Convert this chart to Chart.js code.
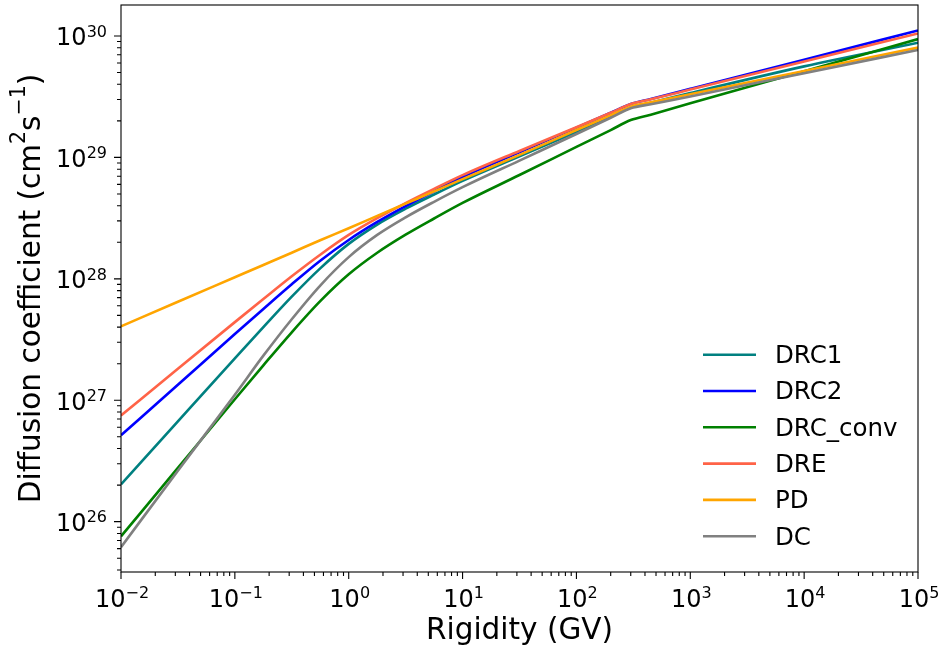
<!DOCTYPE html>
<html lang="en">
<head>
    <meta charset="UTF-8">
    <title>Diffusion coefficient vs rigidity</title>
    <script src="https://cdn.jsdelivr.net/npm/chart.js"></script>
    <style>
        body { margin: 0; background: #fff; }
        #wrap { width: 945px; height: 656px; }
    </style>
</head>
<body>
    <div id="wrap">
        <canvas id="diffChart" width="945" height="656"></canvas>
    </div>

    <script>
        const rigidity = [0.01, 0.0316, 0.1, 0.178, 0.316, 0.562, 1, 1.78, 3.16, 5.62, 10, 31.6, 100, 200, 300, 450, 1000, 1e4, 1e5];

        // Diffusion coefficient (cm^2 s^-1) per model
        const drc1    = [2.03e26, 6.70e26, 2.21e27, 4.00e27, 7.13e27, 1.22e28, 1.94e28, 2.80e28, 3.78e28, 4.95e28, 6.41e28, 1.02e29, 1.62e29, 2.16e29, 2.57e29, 2.82e29, 3.39e29, 5.62e29, 8.81e29];
        const drc2    = [5.14e26, 1.34e27, 3.51e27, 5.65e27, 9.02e27, 1.41e28, 2.09e28, 2.94e28, 3.97e28, 5.26e28, 6.90e28, 1.10e29, 1.76e29, 2.33e29, 2.75e29, 3.03e29, 3.67e29, 6.38e29, 1.11e30];
        const drcConv = [7.57e25, 2.77e26, 1.02e27, 1.94e27, 3.63e27, 6.55e27, 1.09e28, 1.64e28, 2.31e28, 3.14e28, 4.22e28, 7.16e28, 1.22e29, 1.68e29, 2.03e29, 2.25e29, 2.79e29, 5.13e29, 9.44e29];
        const dre     = [7.48e26, 1.82e27, 4.40e27, 6.82e27, 1.05e28, 1.58e28, 2.30e28, 3.16e28, 4.21e28, 5.51e28, 7.14e28, 1.13e29, 1.77e29, 2.33e29, 2.75e29, 3.01e29, 3.62e29, 6.17e29, 1.05e30];
        const pd      = [4.06e27, 6.47e27, 1.03e28, 1.30e28, 1.64e28, 2.08e28, 2.61e28, 3.30e28, 4.16e28, 5.25e28, 6.62e28, 1.05e29, 1.68e29, 2.22e29, 2.62e29, 2.84e29, 3.31e29, 5.15e29, 8.02e29];
        const dc      = [6.17e25, 2.63e26, 1.11e27, 2.33e27, 4.65e27, 8.81e27, 1.51e28, 2.30e28, 3.21e28, 4.31e28, 5.69e28, 9.42e28, 1.56e29, 2.12e29, 2.54e29, 2.74e29, 3.18e29, 4.94e29, 7.67e29];

        const seriesNames  = ['DRC1', 'DRC2', 'DRC_conv', 'DRE', 'PD', 'DC'];
        const seriesValues = [drc1, drc2, drcConv, dre, pd, dc];
        const seriesColors = ['#008080', '#0000FF', '#008000', '#FF6347', '#FFA500', '#808080'];

        // Tick labels: base and exponent
        const xTickValues = [1e-2, 1e-1, 1e0, 1e1, 1e2, 1e3, 1e4, 1e5];
        const xTickLabels = [['10', '−2'], ['10', '−1'], ['10', '0'], ['10', '1'], ['10', '2'], ['10', '3'], ['10', '4'], ['10', '5']];
        const yTickValues = [1e26, 1e27, 1e28, 1e29, 1e30];
        const yTickLabels = [['10', '26'], ['10', '27'], ['10', '28'], ['10', '29'], ['10', '30']];

        // y-axis title pieces: [text, superscript?]
        const yTitleParts = [['Diffusion coefficient (cm', false], ['2', true], ['s', false], ['−1', true], [')', false]];

        const FONT = 'DejaVu Sans';
        const X_MIN = 1e-2, X_MAX = 1e5;
        const Y_MIN = 3.85e25, Y_MAX = 1.8e30;

        const isDecade = v => Math.abs(Math.log10(v) - Math.round(Math.log10(v))) < 1e-6;
        const font = px => px + 'px "' + FONT + '"';

        // major + minor tick positions for a log range
        function logTicks(min, max) {
            const out = [];
            for (let e = Math.floor(Math.log10(min)); e <= Math.ceil(Math.log10(max)); e++) {
                for (let m = 1; m < 10; m++) {
                    const v = m * Math.pow(10, e);
                    if (v >= min * 0.9999 && v <= max * 1.0001) out.push(v);
                }
            }
            return out;
        }

        // "10" with a raised exponent
        function drawPow(ctx, base, exp, x, y, align) {
            ctx.font = font(24);
            const wb = ctx.measureText(base).width;
            ctx.font = font(16);
            const we = ctx.measureText(exp).width;
            const w = wb + we;
            const left = align === 'right' ? x - w : x - w / 2;
            ctx.textAlign = 'left';
            ctx.textBaseline = 'alphabetic';
            ctx.font = font(24);
            ctx.fillText(base, left, y);
            ctx.font = font(16);
            ctx.fillText(exp, left + wb, y - 8.5);
        }

        // rotated y title with real superscripts
        function drawYTitle(ctx, a) {
            const big = 29.5, small = 20.5;
            let total = 0;
            yTitleParts.forEach(([t, sup]) => { ctx.font = font(sup ? small : big); total += ctx.measureText(t).width; });
            ctx.save();
            ctx.translate(40, (a.top + a.bottom) / 2);
            ctx.rotate(-Math.PI / 2);
            ctx.textAlign = 'left';
            ctx.textBaseline = 'alphabetic';
            let x = -total / 2;
            yTitleParts.forEach(([t, sup]) => {
                ctx.font = font(sup ? small : big);
                ctx.fillText(t, x, sup ? -15 : 0);
                x += ctx.measureText(t).width;
            });
            ctx.restore();
        }

        // spines, tick marks, tick labels and the legend, drawn like the matplotlib axes
        const axesFrame = {
            id: 'axesFrame',
            afterDraw(chart) {
                const { ctx, chartArea: a, scales } = chart;
                ctx.save();
                ctx.strokeStyle = '#000';
                ctx.lineWidth = 1.1;
                ctx.beginPath();
                scales.x.ticks.forEach(t => {
                    const px = scales.x.getPixelForValue(t.value);
                    const len = isDecade(t.value) ? 7 : 4;
                    ctx.moveTo(px, a.bottom);
                    ctx.lineTo(px, a.bottom + len);
                });
                scales.y.ticks.forEach(t => {
                    const py = scales.y.getPixelForValue(t.value);
                    const len = isDecade(t.value) ? 7 : 4;
                    ctx.moveTo(a.left, py);
                    ctx.lineTo(a.left - len, py);
                });
                ctx.stroke();
                ctx.strokeRect(a.left, a.top, a.right - a.left, a.bottom - a.top);

                ctx.fillStyle = '#000';
                xTickValues.forEach((v, i) => {
                    const px = scales.x.getPixelForValue(v);
                    drawPow(ctx, xTickLabels[i][0], xTickLabels[i][1], px + 1, a.bottom + 34.5, 'center');
                });
                yTickValues.forEach((v, i) => {
                    const py = scales.y.getPixelForValue(v);
                    drawPow(ctx, yTickLabels[i][0], yTickLabels[i][1], a.left - 14, py + 9.3, 'right');
                });
                drawYTitle(ctx, a);

                // legend (no frame), lower right inside the axes
                ctx.font = font(24.5);
                ctx.textBaseline = 'middle';
                ctx.textAlign = 'left';
                const x0 = a.right - 215, x1 = a.right - 162, tx = a.right - 143;
                chart.data.datasets.forEach((ds, i) => {
                    const y = a.bottom - 217.3 + i * 36.3;
                    ctx.strokeStyle = ds.borderColor;
                    ctx.lineWidth = 2.6;
                    ctx.beginPath();
                    ctx.moveTo(x0, y);
                    ctx.lineTo(x1, y);
                    ctx.stroke();
                    ctx.fillStyle = '#000';
                    ctx.fillText(ds.label, tx, y + 2);
                });
                ctx.restore();
            }
        };

        const datasets = seriesNames.map((name, i) => ({
            label: name,
            data: rigidity.map((r, j) => ({ x: r, y: seriesValues[i][j] })),
            borderColor: seriesColors[i],
            backgroundColor: seriesColors[i],
            borderWidth: 2.6,
            pointRadius: 0,
            cubicInterpolationMode: 'monotone',
            fill: false,
            order: seriesNames.length - i
        }));

        const noPad = s => { s.paddingTop = 0; s.paddingBottom = 0; s.paddingLeft = 0; s.paddingRight = 0; };

        new Chart(document.getElementById('diffChart'), {
            type: 'line',
            data: { datasets },
            options: {
                responsive: false,
                devicePixelRatio: 1,
                animation: false,
                layout: { padding: { top: 5, right: 27, left: 0, bottom: 0 } },
                plugins: {
                    legend: { display: false },
                    tooltip: { enabled: false }
                },
                scales: {
                    x: {
                        type: 'logarithmic',
                        min: X_MIN,
                        max: X_MAX,
                        afterBuildTicks: s => { s.ticks = logTicks(X_MIN, X_MAX).map(v => ({ value: v })); },
                        afterFit: s => { s.height = 84; noPad(s); },
                        grid: { display: false, drawTicks: false },
                        border: { display: false },
                        ticks: { display: false },
                        title: {
                            display: true,
                            text: 'Rigidity (GV)',
                            color: '#000',
                            font: { family: FONT, size: 29.5 },
                            padding: { top: 0, bottom: 7 }
                        }
                    },
                    y: {
                        type: 'logarithmic',
                        min: Y_MIN,
                        max: Y_MAX,
                        afterBuildTicks: s => { s.ticks = logTicks(Y_MIN, Y_MAX).map(v => ({ value: v })); },
                        afterFit: s => { s.width = 121; noPad(s); },
                        grid: { display: false, drawTicks: false },
                        border: { display: false },
                        ticks: { display: false },
                        title: { display: false }
                    }
                }
            },
            plugins: [axesFrame]
        });
    </script>
</body>
</html>
